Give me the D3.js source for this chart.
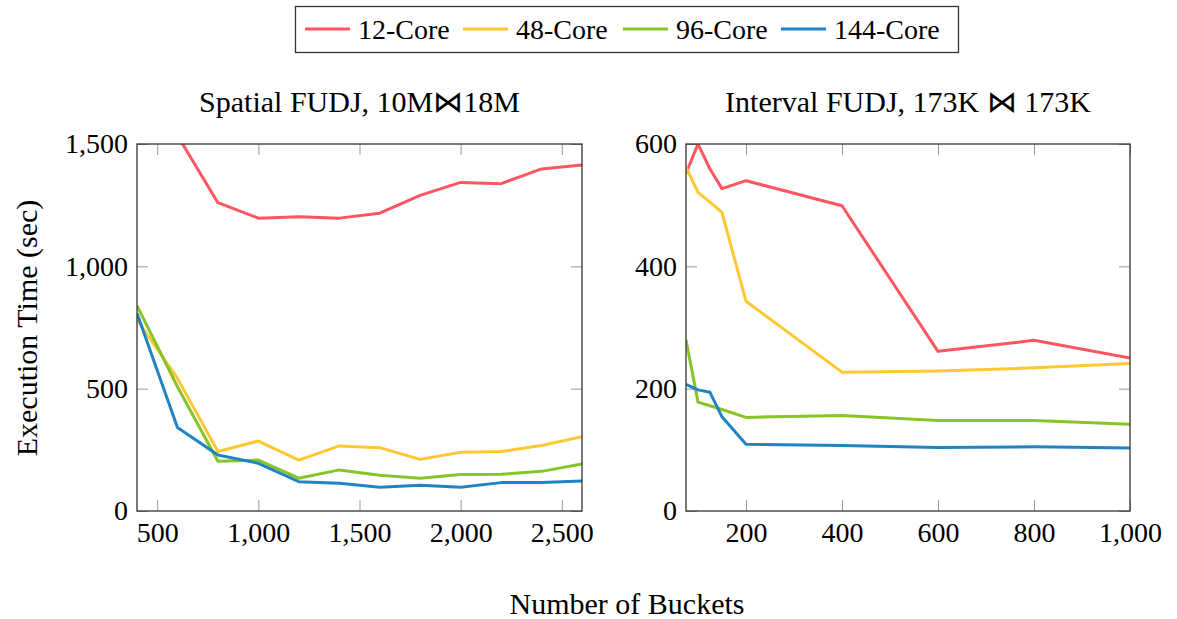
<!DOCTYPE html>
<html>
  <head>
    <meta http-equiv="Content-Type" content="text/html;charset=utf-8">
    <title>FUDJ buckets</title>
    <script src="https://d3js.org/d3.v7.min.js"></script>
    <style type="text/css">
body {
    margin: 0;
    background: #fff;
}
text {
    font-family: "Liberation Serif", "DejaVu Serif", serif;
    fill: #000;
}
.tick line {
    stroke: #999;
    stroke-width: 1px;
}
.frame {
    fill: none;
    stroke: #333;
    stroke-width: 1.3px;
}
.series {
    fill: none;
    stroke-width: 3px;
    stroke-linejoin: round;
}
    </style>
  </head>
  <body>
    <script type="text/javascript">
// series
var seriesNames = ['12-Core', '48-Core', '96-Core', '144-Core'],
    seriesColors = ['#fd5660', '#fec832', '#87c428', '#1f83c4'];

// spatial join (left panel)
var spatialBuckets = [400, 600, 800, 1000, 1200, 1400, 1600, 1800, 2000, 2200, 2400, 2600],
    spatial12 = [1900, 1535, 1260, 1197, 1203, 1197, 1217, 1290, 1343, 1338, 1398, 1414],
    spatial48 = [781, 542, 243, 286, 208, 266, 259, 211, 240, 243, 268, 304],
    spatial96 = [839, 508, 203, 208, 134, 168, 146, 134, 149, 150, 162, 192],
    spatial144 = [808, 341, 229, 195, 120, 113, 97, 105, 97, 116, 116, 123],
    spatialXTicks = [500, 1000, 1500, 2000, 2500],
    spatialYTicks = [0, 500, 1000, 1500];

// interval join (right panel)
var intervalBuckets = [75, 100, 125, 150, 200, 400, 600, 800, 1000],
    interval12 = [552, 600, 559, 527, 540, 499, 261, 279, 250],
    interval48 = [562, 521, 505, 488, 343, 227, 229, 234, 241],
    interval96 = [280, 178, 172, 166, 153, 156, 148, 148, 142],
    interval144 = [207, 198, 194, 154, 109, 107, 104, 105, 103],
    intervalXTicks = [200, 400, 600, 800, 1000],
    intervalYTicks = [0, 200, 400, 600];

var W = 1177, H = 619,
    plotTop = 144, plotBottom = 511,
    tickLen = 11,
    fmt = d3.format(',');

var svg = d3.select('body').append('svg')
    .attr('width', W)
    .attr('height', H);

var panels = [
    {
        title: 'Spatial FUDJ, 10M\u22c818M', left: 137, right: 582,
        xDomain: [400, 2600], yDomain: [0, 1500],
        xs: spatialBuckets, ys: [spatial12, spatial48, spatial96, spatial144],
        xTicks: spatialXTicks, yTicks: spatialYTicks
    },
    {
        title: 'Interval FUDJ, 173K \u22c8 173K', left: 686, right: 1130,
        xDomain: [75, 1000], yDomain: [0, 600],
        xs: intervalBuckets, ys: [interval12, interval48, interval96, interval144],
        xTicks: intervalXTicks, yTicks: intervalYTicks
    }
];

panels.forEach(function(p, pi) {
    var x = d3.scaleLinear().domain(p.xDomain).range([p.left, p.right]),
        y = d3.scaleLinear().domain(p.yDomain).range([plotBottom, plotTop]);

    var g = svg.append('g');

    // ticks, mirrored on all four sides, pointing inward
    var xAxis = g.append('g')
        .attr('transform', 'translate(0,' + plotBottom + ')')
        .call(d3.axisBottom(x).tickValues(p.xTicks).tickSize(-tickLen).tickFormat(fmt));
    xAxis.selectAll('.tick text')
        .attr('y', 31)
        .attr('dy', 0);
    g.append('g')
        .attr('transform', 'translate(0,' + plotTop + ')')
        .call(d3.axisTop(x).tickValues(p.xTicks).tickSize(-tickLen).tickFormat(''));
    g.append('g')
        .attr('transform', 'translate(' + p.left + ',0)')
        .call(d3.axisLeft(y).tickValues(p.yTicks).tickSize(-tickLen).tickPadding(9).tickFormat(fmt));
    g.append('g')
        .attr('transform', 'translate(' + p.right + ',0)')
        .call(d3.axisRight(y).tickValues(p.yTicks).tickSize(-tickLen).tickFormat(''));

    g.selectAll('.domain').remove();
    g.selectAll('.tick text')
        .attr('font-size', 28)
        .attr('font-family', '"Liberation Serif", serif');

    // clip so lines that leave the plot are cut at the frame
    svg.append('clipPath')
        .attr('id', 'clip' + pi)
      .append('rect')
        .attr('x', p.left)
        .attr('y', plotTop)
        .attr('width', p.right - p.left)
        .attr('height', plotBottom - plotTop);

    var line = d3.line()
        .x(function(d) { return x(d[0]) })
        .y(function(d) { return y(d[1]) });

    g.append('g')
        .attr('clip-path', 'url(#clip' + pi + ')')
      .selectAll('path')
        .data(p.ys)
      .enter().append('path')
        .attr('class', 'series')
        .attr('stroke', function(d, i) { return seriesColors[i] })
        .attr('d', function(d) {
            return line(d.map(function(v, i) { return [p.xs[i], v] }));
        });

    g.append('rect')
        .attr('class', 'frame')
        .attr('x', p.left)
        .attr('y', plotTop)
        .attr('width', p.right - p.left)
        .attr('height', plotBottom - plotTop);

    g.append('text')
        .attr('x', (p.left + p.right) / 2)
        .attr('y', 112)
        .attr('text-anchor', 'middle')
        .attr('font-size', 30)
        .text(p.title);
});

// shared axis labels
svg.append('text')
    .attr('transform', 'translate(37,328) rotate(-90)')
    .attr('text-anchor', 'middle')
    .attr('font-size', 30)
    .text('Execution Time (sec)');

svg.append('text')
    .attr('x', 627)
    .attr('y', 614)
    .attr('text-anchor', 'middle')
    .attr('font-size', 30)
    .text('Number of Buckets');

// legend
var legend = svg.append('g');
legend.append('rect')
    .attr('x', 295.5)
    .attr('y', 6.5)
    .attr('width', 663)
    .attr('height', 46)
    .attr('fill', '#fff')
    .attr('stroke', '#333')
    .attr('stroke-width', 1.3);

var legendX = [305, 463, 623, 781];
var items = legend.selectAll('g.item')
    .data(seriesNames)
  .enter().append('g')
    .attr('class', 'item')
    .attr('transform', function(d, i) { return 'translate(' + legendX[i] + ',0)' });

items.append('line')
    .attr('x1', 0)
    .attr('x2', 45)
    .attr('y1', 29)
    .attr('y2', 29)
    .attr('stroke', function(d, i) { return seriesColors[i] })
    .attr('stroke-width', 3);

items.append('text')
    .attr('x', 53)
    .attr('y', 39)
    .attr('font-size', 28)
    .text(function(d) { return d });
    </script>
